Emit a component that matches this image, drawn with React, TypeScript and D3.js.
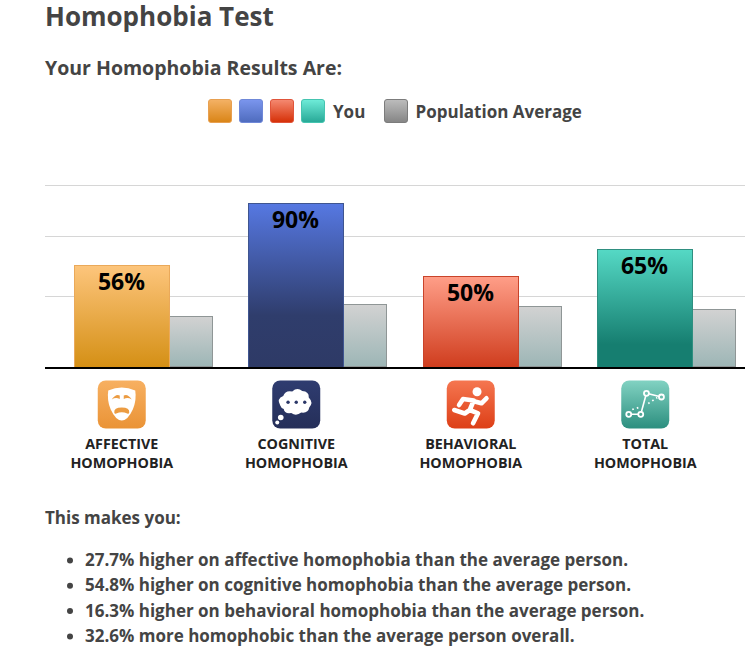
import React from "react";
import * as d3 from "d3";

const categories = ["Affective", "Cognitive", "Behavioral", "Total"];
const labelLine1 = ["AFFECTIVE", "COGNITIVE", "BEHAVIORAL", "TOTAL"];
const labelLine2 = ["HOMOPHOBIA", "HOMOPHOBIA", "HOMOPHOBIA", "HOMOPHOBIA"];
const youValues = [56, 90, 50, 65];
const averageValues = [28.2, 34.9, 33.8, 32.3];
const gridValues = [39, 72, 100];
const bullets = [
  "27.7% higher on affective homophobia than the average person.",
  "54.8% higher on cognitive homophobia than the average person.",
  "16.3% higher on behavioral homophobia than the average person.",
  "32.6% more homophobic than the average person overall.",
];
const barStops = [
  [["0%", "#fdc57c"], ["100%", "#d48f14"]],
  [["0%", "#5678e2"], ["68%", "#2f3d6c"], ["100%", "#2e3a66"]],
  [["0%", "#ff9e88"], ["100%", "#cf3c1d"]],
  [["0%", "#55d9c5"], ["80%", "#167e70"], ["100%", "#167e70"]],
];
const barStrokes = ["#eaa95a", "#3f5590", "#c9432a", "#2f8f80"];
const swatchStops = [
  ["#f4b266", "#d98416"],
  ["#7b96ee", "#4e6bbd"],
  ["#f58a72", "#d52f06"],
  ["#6fecd9", "#27a896"],
];
const swatchStrokes = ["#e8a050", "#6f88d8", "#e0543a", "#45c4b0"];
const iconStops = [
  ["#f7b061", "#ea9336"],
  ["#2f3c70", "#252f59"],
  ["#f57650", "#dd3f17"],
  ["#82d2c2", "#2c8f7f"],
];

const FONT = "'Open Sans', sans-serif";
const TEXT = "#444444";
const baseY = 368;

const y = d3.scaleLinear().domain([0, 100]).range([baseY, 184.5]);
const x = d3.scaleBand<string>().domain(categories).range([56.25, 754.25]).paddingInner(0).paddingOuter(0);
const youW = 95;
const avgW = 43;

function Icon({ i, cx }: { i: number; cx: number }) {
  const top = 380.5;
  const size = 48;
  return (
    <g transform={`translate(${cx - size / 2},${top})`}>
      <rect width={size} height={size} rx={8} fill={`url(#icon${i})`} />
      {i === 0 && (
        <g>
          <path d="M10.5 10 Q24 4 37.5 10 Q39 20 35 29 Q30 40 24 40 Q18 40 13 29 Q9 20 10.5 10Z" fill="#fff" />
          <path d="M14 19 Q18 13 22 15 L22 18.5 Q18 16.5 14 19Z M34 19 Q30 13 26 15 L26 18.5 Q30 16.5 34 19Z" fill="#ec9c42" />
          <path d="M16.5 32 Q16 27 24 27 Q32 27 31.5 32 Q31 34 29.5 33 Q24 30.5 18.5 33 Q17 34 16.5 32Z" fill="#ec9c42" />
        </g>
      )}
      {i === 1 && (
        <g fill="#fff">
          <path d="M8 25 Q4 18 11 15.5 Q13 9.5 20 11 Q25 6.5 30 10.5 Q37 11 36.5 17 Q41.5 22 37 27 Q36 33 29 32 Q24 36 19 32.5 Q12 33.5 11.5 28.5 Q9 28 8 25Z" />
          <circle cx={8.5} cy={37} r={2.8} />
          <circle cx={5} cy={42} r={2} />
          <circle cx={15.8} cy={21.8} r={1.7} fill="#2b3768" />
          <circle cx={24} cy={21.8} r={1.7} fill="#2b3768" />
          <circle cx={32.5} cy={21.8} r={1.7} fill="#2b3768" />
        </g>
      )}
      {i === 2 && (
        <g>
          <circle cx={30.3} cy={11.2} r={4.5} fill="#fff" />
          <path d="M12.3 24.5 L16.3 18.5 L27 20 L23 29.5 L31.3 32.8 L26.3 42.8 M28 21 L34.7 22.8 L39.7 17.8 M23 29.5 L18 33 L7.5 29.5" fill="none" stroke="#fff" strokeWidth={4.6} strokeLinecap="round" strokeLinejoin="round" />
        </g>
      )}
      {i === 3 && (
        <g fill="none" stroke="#fff">
          <path d="M7.5 33.8 L19.5 33.8 L25.2 12.8 L40.2 16.5" strokeWidth={1.6} />
          <path d="M11 29 L19 26.5 M27 23 L36 17" strokeWidth={1.7} strokeDasharray="1.6 3.2" />
          <circle cx={7.5} cy={33.8} r={2.5} strokeWidth={1.8} fill="#4fa696" />
          <circle cx={19.5} cy={33.8} r={2.5} strokeWidth={1.8} fill="#4fa696" />
          <circle cx={25.2} cy={12.8} r={2.5} strokeWidth={1.8} fill="#72c2b2" />
          <circle cx={40.2} cy={16.5} r={2.5} strokeWidth={1.8} fill="#6cbcac" />
        </g>
      )}
    </g>
  );
}

function Swatch({ x: sx, id, stroke }: { x: number; id: string; stroke: string }) {
  return <rect x={sx + 0.5} y={99.5} width={23} height={23} rx={2.5} fill={`url(#${id})`} stroke={stroke} />;
}

export default function App() {
  const groupOffset = (x.bandwidth() - 138.5) / 2;
  return (
    <svg
      width={755}
      height={649}
      viewBox="0 0 755 649"
      style={{ position: "absolute", left: 0, top: 0, background: "#fff" }}
      fontFamily={FONT}
      fontWeight={700}
    >
      <defs>
        {barStops.map((stops, i) => (
          <linearGradient key={i} id={`bar${i}`} x1="0" y1="0" x2="0" y2="1">
            {stops.map(([o, c]) => <stop key={o} offset={o} stopColor={c} />)}
          </linearGradient>
        ))}
        {swatchStops.map((c, i) => (
          <linearGradient key={i} id={`sw${i}`} x1="0" y1="0" x2="0" y2="1">
            <stop offset="0%" stopColor={c[0]} />
            <stop offset="100%" stopColor={c[1]} />
          </linearGradient>
        ))}
        {iconStops.map((c, i) => (
          <linearGradient key={i} id={`icon${i}`} x1="0" y1="0" x2="0" y2="1">
            <stop offset="0%" stopColor={c[0]} />
            <stop offset="100%" stopColor={c[1]} />
          </linearGradient>
        ))}
        <linearGradient id="avg" x1="0" y1="0" x2="0" y2="1">
          <stop offset="0%" stopColor="#d2d2d2" />
          <stop offset="100%" stopColor="#9db6b6" />
        </linearGradient>
        <linearGradient id="swAvg" x1="0" y1="0" x2="0" y2="1">
          <stop offset="0%" stopColor="#bdbdbd" />
          <stop offset="100%" stopColor="#858585" />
        </linearGradient>
      </defs>

      <text x={45} y={26} fontSize={26} fill={TEXT}>Homophobia Test</text>
      <text x={45} y={75} fontSize={19.5} fill={TEXT}>Your Homophobia Results Are:</text>

      {swatchStops.map((_, i) => (
        <Swatch key={i} x={208 + i * 31} id={`sw${i}`} stroke={swatchStrokes[i]} />
      ))}
      <text x={333} y={118} fontSize={17} fill={TEXT}>You</text>
      <Swatch x={384} id="swAvg" stroke="#7c7c7c" />
      <text x={415.5} y={118} fontSize={17} fill={TEXT}>Population Average</text>

      {gridValues.map((v) => (
        <line key={v} x1={45} x2={745} y1={Math.round(y(v)) + 0.5} y2={Math.round(y(v)) + 0.5} stroke="#d6d6d6" strokeWidth={1} />
      ))}

      {categories.map((c, i) => {
        const x0 = Math.floor((x(c) as number) + groupOffset) + 0.5;
        const yTop = Math.round(y(youValues[i])) + 0.5;
        const aTop = Math.round(y(averageValues[i])) + 0.5;
        return (
          <g key={c}>
            <rect x={x0 + youW} y={aTop} width={avgW} height={baseY - 1.5 - aTop} fill="url(#avg)" stroke="#8f9696" strokeWidth={1} />
            <rect x={x0} y={yTop} width={youW} height={baseY - yTop} fill={`url(#bar${i})`} stroke={barStrokes[i]} strokeWidth={1} />
            <text x={x0 + youW / 2 - 0.5} y={yTop + 24} textAnchor="middle" fontSize={23} fill="#000">{youValues[i]}%</text>
          </g>
        );
      })}
      <line x1={45} x2={745} y1={368} y2={368} stroke="#000" strokeWidth={2} />

      {categories.map((c, i) => {
        const cx = (x(c) as number) + groupOffset + 47.5;
        return (
          <g key={c}>
            <Icon i={i} cx={cx} />
            <text x={cx} y={449} textAnchor="middle" fontSize={14.3} fill="#222">{labelLine1[i]}</text>
            <text x={cx} y={468} textAnchor="middle" fontSize={14.3} fill="#222">{labelLine2[i]}</text>
          </g>
        );
      })}

      <text x={45} y={524} fontSize={17} fill={TEXT}>This makes you:</text>
      {bullets.map((b, i) => (
        <g key={b}>
          <circle cx={70} cy={560.5 + i * 25.3} r={3} fill={TEXT} />
          <text x={85} y={566 + i * 25.3} fontSize={17} fill={TEXT}>{b}</text>
        </g>
      ))}
    </svg>
  );
}
